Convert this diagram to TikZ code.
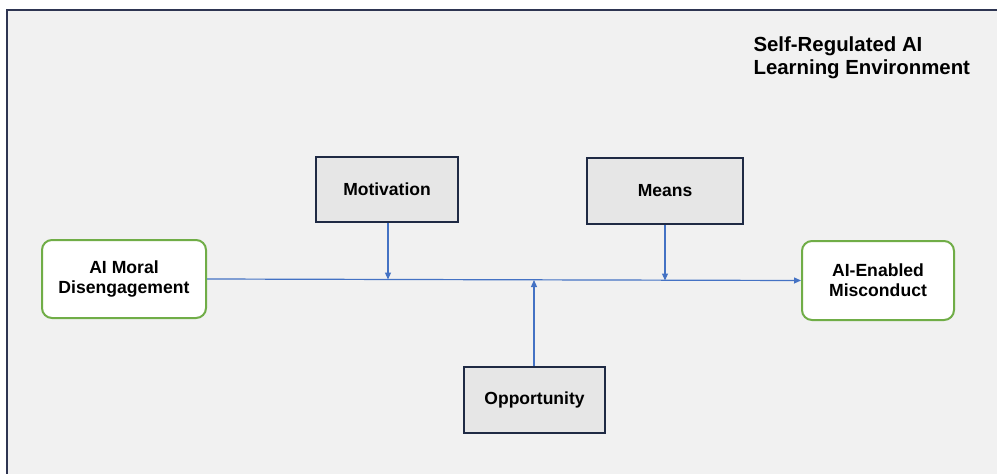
\documentclass[tikz,border=0pt]{standalone}
\usepackage{fontspec}
\setmainfont{Liberation Sans}
\usetikzlibrary{arrows.meta}
\definecolor{bgc}{HTML}{F1F1F1}
\definecolor{framec}{HTML}{2E3552}
\definecolor{greenc}{HTML}{70AD47}
\definecolor{navyc}{HTML}{1F2A44}
\definecolor{boxfill}{HTML}{E6E6E6}
\definecolor{bluec}{HTML}{4472C4}
\tikzset{
  outcome/.style={draw=greenc, line width=2pt, fill=white, rounded corners=10pt, align=center, font=\bfseries\fontsize{17.6}{20}\selectfont, inner sep=0pt},
  factor/.style={draw=navyc, line width=2pt, fill=boxfill, align=center, font=\bfseries\fontsize{17.5}{20}\selectfont, inner sep=0pt},
  link/.style={draw=bluec, line width=1.2pt, -{Triangle[length=7pt,width=6pt]}}
}
\begin{document}
\begin{tikzpicture}[x=1pt,y=-1pt]
\useasboundingbox (0,0) rectangle (997,474);
\fill[white] (0,0) rectangle (997,474);
\fill[bgc] (7,10) rectangle (997,474);
\draw[framec, line width=2.2pt] (7,474) -- (7,10) -- (997,10);
\node[font=\bfseries\fontsize{20.4}{23.5}\selectfont, align=left, anchor=north west] (title) at (750,33) {Self-Regulated AI\\Learning Environment};
\node[outcome, minimum width=164pt, minimum height=78pt] (amd) at (124,279) {AI Moral\\Disengagement};
\node[outcome, minimum width=152pt, minimum height=79pt] (aem) at (878,280.5) {AI-Enabled\\Misconduct};
\node[factor, minimum width=142pt, minimum height=65pt] (mot) at (387,189.5) {Motivation};
\node[factor, minimum width=156pt, minimum height=66pt] (mea) at (665,191) {Means};
\node[factor, minimum width=141pt, minimum height=66pt] (opp) at (534.5,400) {Opportunity};
\coordinate (pmot) at (388,279.5);
\coordinate (pmea) at (665,280.5);
\coordinate (popp) at (534,280);
\draw[link] (amd.east) -- (aem.west);
\draw[link] (mot.south -| pmot) -- (pmot);
\draw[link] (mea.south) -- (pmea);
\draw[link] (opp.north -| popp) -- (popp);
\end{tikzpicture}
\end{document}
